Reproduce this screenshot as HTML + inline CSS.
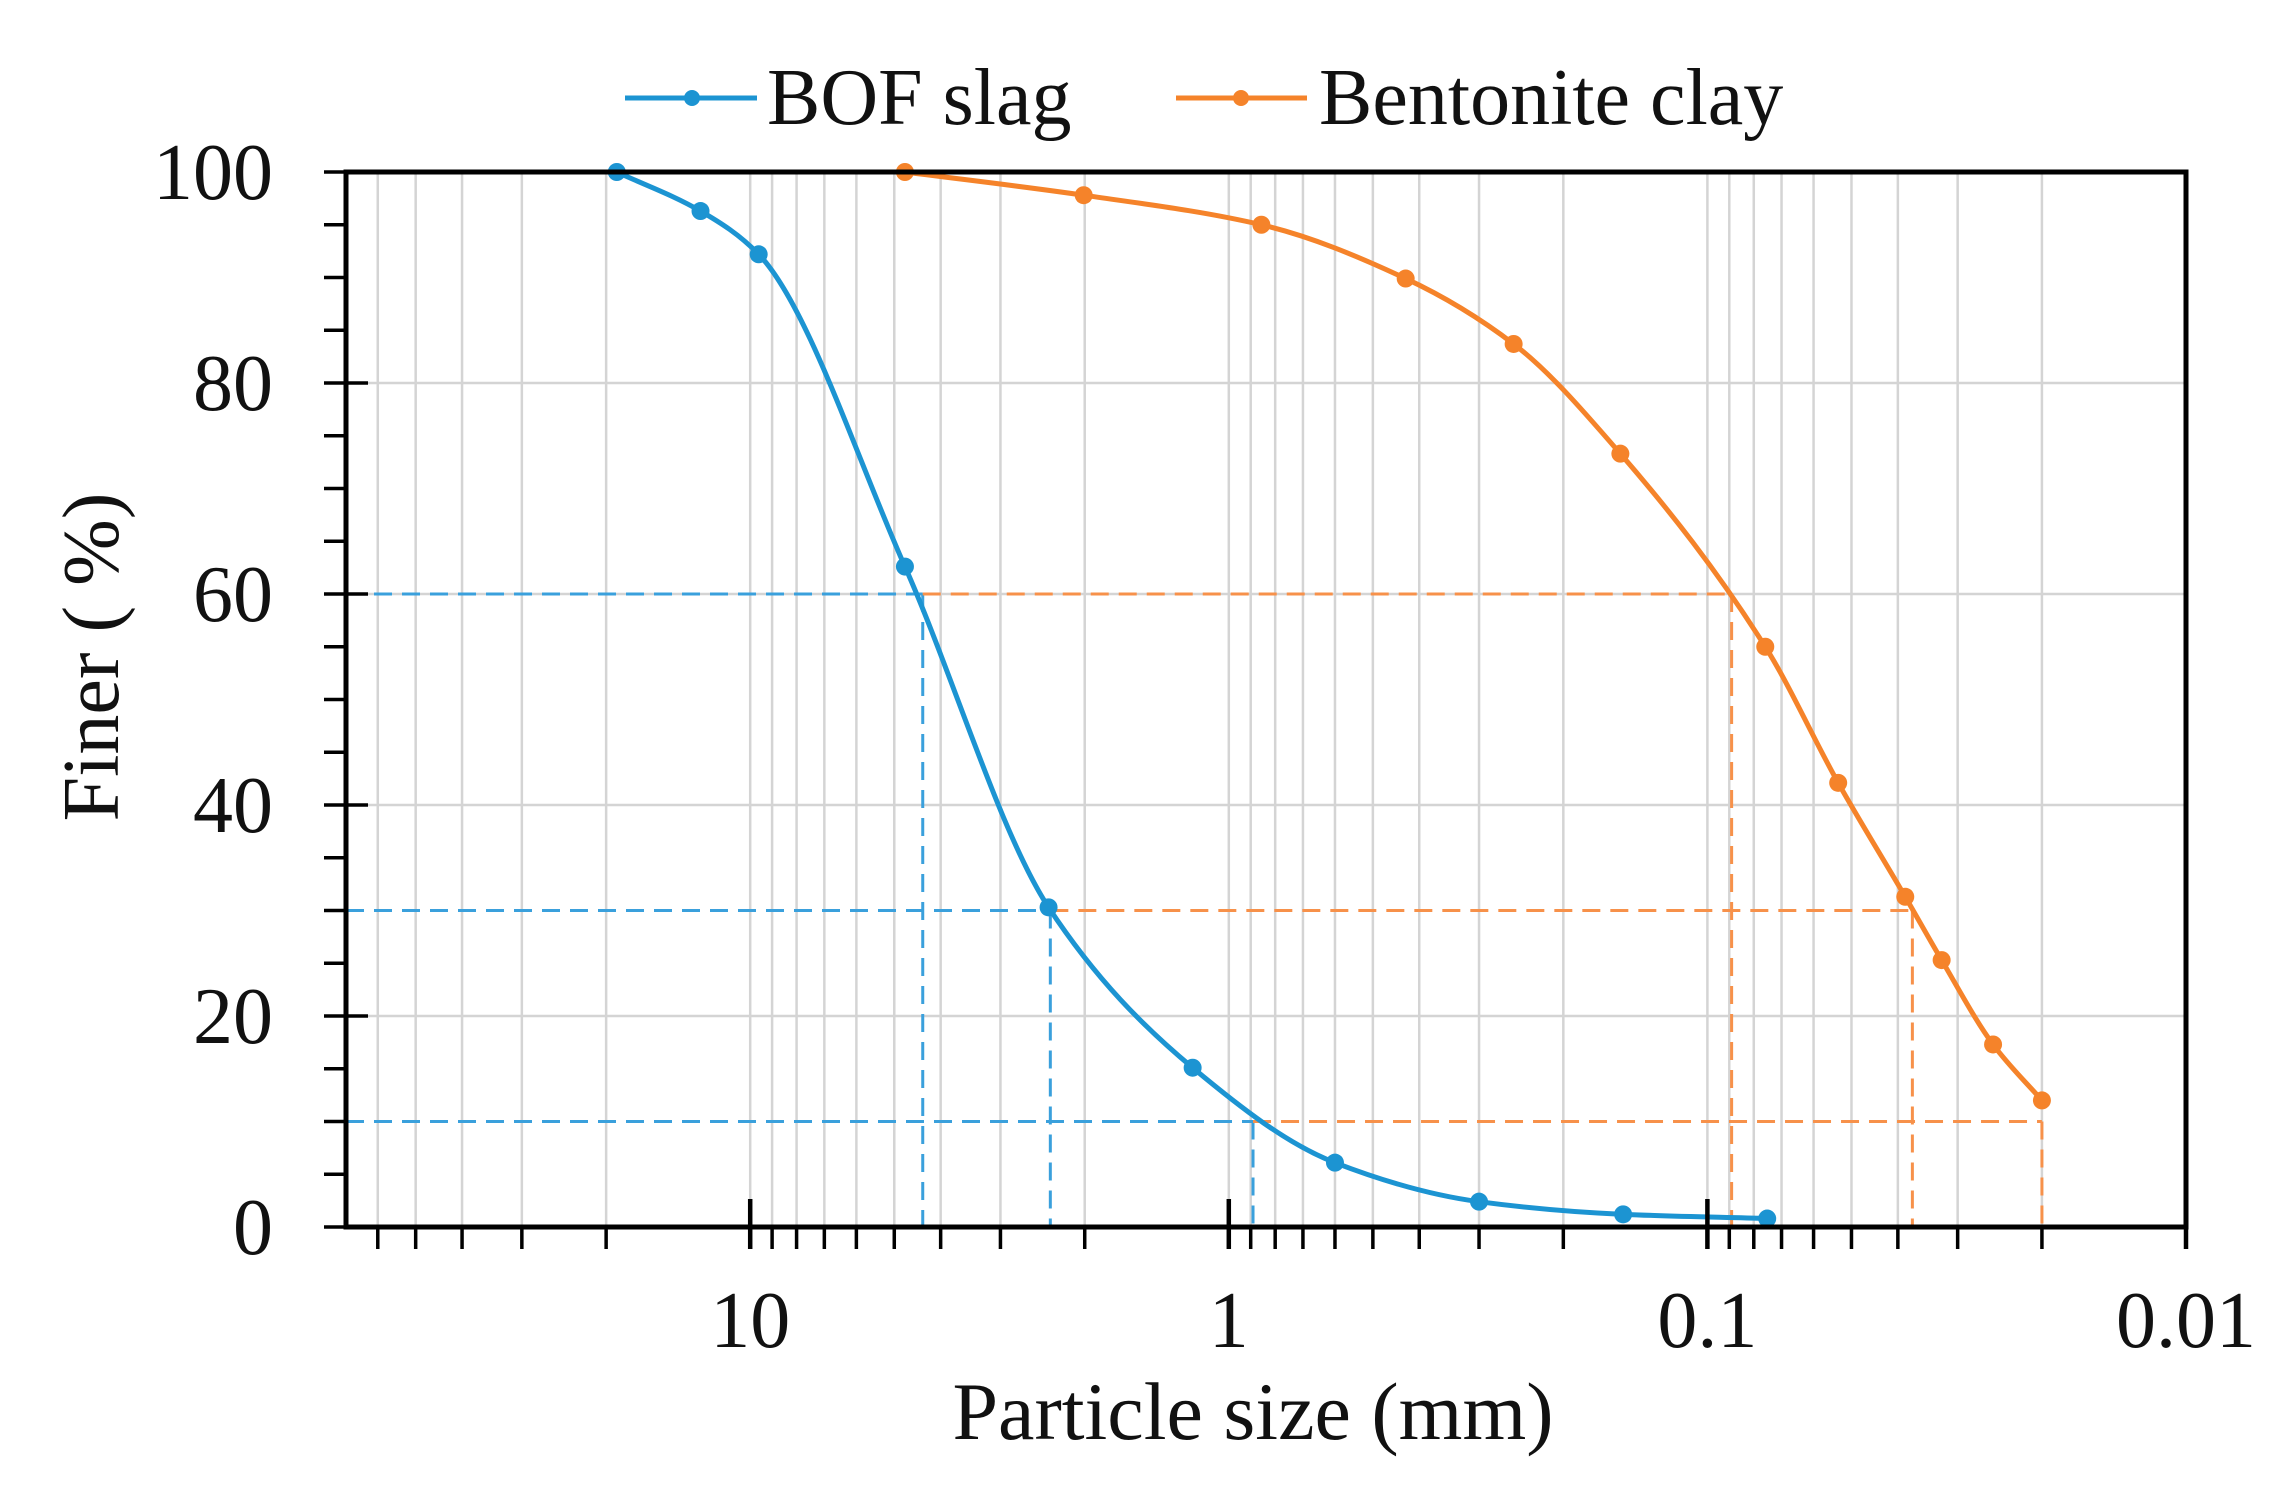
<!DOCTYPE html>
<html><head><meta charset="utf-8">
<style>
html,body{margin:0;padding:0;background:#fff;}
svg{display:block;font-family:"Liberation Serif","Times New Roman",serif;}
</style></head>
<body>
<svg id="chart" width="2290" height="1493" viewBox="0 0 2290 1493" xmlns="http://www.w3.org/2000/svg">
<g id="grid"></g>
<g id="refs"></g>
<g id="series"></g>
<g id="axes"></g>
<g id="legend">
  <line x1="625" y1="98" x2="757" y2="98" stroke="#1c94d2" stroke-width="5"/>
  <circle cx="692" cy="98" r="8" fill="#1c94d2"/>
  <text x="767" y="124" font-size="80" fill="#111">BOF slag</text>
  <line x1="1176" y1="98" x2="1307" y2="98" stroke="#f5832a" stroke-width="5"/>
  <circle cx="1241" cy="98" r="8" fill="#f5832a"/>
  <text x="1319" y="124" font-size="80" fill="#111">Bentonite clay</text>
</g>
<text x="1253" y="1439" font-size="82" text-anchor="middle" fill="#111">Particle size (mm)</text>
<text x="0" y="0" font-size="80" text-anchor="middle" fill="#111" transform="translate(118,657) rotate(-90)">Finer ( %)</text>
</svg>
<script>
const bofSize = [19, 12.7, 9.6, 4.75, 2.38, 1.19, 0.60, 0.30, 0.15, 0.075];
const bofFiner = [100, 96.3, 92.2, 62.6, 30.3, 15.1, 6.1, 2.4, 1.2, 0.8];
const clySize = [4.75, 2.01, 0.855, 0.427, 0.254, 0.152, 0.0757, 0.0533, 0.0386, 0.0324, 0.0253, 0.020];
const clyFiner = [100, 97.8, 95.0, 89.9, 83.7, 73.3, 55.0, 42.1, 31.3, 25.3, 17.3, 12.0];
const bofD = [4.36, 2.36, 0.89];
const clyD = [0.089, 0.0373, 0.020];
const dLevels = [60, 30, 10];
const yTicks = [0, 20, 40, 60, 80, 100];
const xTickLabels = ["10", "1", "0.1", "0.01"];
const xTickValues = [10, 1, 0.1, 0.01];

const L=346,R=2186,T=172,B=1227,DEC=478.6;
const NS="http://www.w3.org/2000/svg";
function sx(v){return R-(Math.log10(v)+2)*DEC;}
function sy(v){return B-(v/100)*(B-T);}
function mk(tag,attrs,parent){const e=document.createElementNS(NS,tag);for(const k in attrs)e.setAttribute(k,attrs[k]);parent.appendChild(e);return e;}
const grid=document.getElementById('grid'),axes=document.getElementById('axes'),refs=document.getElementById('refs'),series=document.getElementById('series');

const xmax=Math.pow(10,(R-L)/DEC-2);
for(let e=-2;e<=2;e++){for(let m=1;m<=9;m++){const v=m*Math.pow(10,e);if(v>xmax+1e-9||v<0.01-1e-12)continue;const x=sx(v);
 if(x>L+1&&x<R-1){const g=mk('line',{x1:x,y1:T,x2:x,y2:B,stroke:'#d4d4d4','stroke-width':2.5},grid);}
 const t=mk('line',{x1:x,y1:m===1?B-28:B,x2:x,y2:B+22,stroke:'#000','stroke-width':m===1?4.5:3.5},axes);
 }}
yTicks.forEach(v=>{if(v>0&&v<100){const g=mk('line',{x1:L,y1:sy(v),x2:R,y2:sy(v),stroke:'#d4d4d4','stroke-width':2.5},grid);}});
for(let v=0;v<=100;v+=5){const major=v%20===0;const t=mk('line',{x1:L-22,y1:sy(v),x2:major?L+22:L,y2:sy(v),stroke:'#000','stroke-width':3.5},axes);
 }
yTicks.forEach(v=>{const t=mk('text',{x:273,y:sy(v)+27,'font-size':80,'text-anchor':'end',fill:'#111'},axes);t.textContent=v;
 });
xTickValues.forEach((v,i)=>{const t=mk('text',{x:sx(v),y:1347,'font-size':80,'text-anchor':'middle',fill:'#111'},axes);t.textContent=xTickLabels[i];
 });
const fr=mk('rect',{x:L,y:T,width:R-L,height:B-T,fill:'none',stroke:'#000','stroke-width':5},axes);


dLevels.forEach((lv,i)=>{const y=sy(lv),xb=sx(bofD[i]),xc=sx(clyD[i]);
 const a=mk('path',{d:`M${L},${y}H${xb}M${xb},${y}V${B}`,stroke:'#3aa0dc','stroke-width':3,fill:'none','stroke-dasharray':'18 10'},refs);
 
 const b=mk('path',{d:`M${xb},${y}H${xc}M${xc},${y}V${B}`,stroke:'#f7914a','stroke-width':3,fill:'none','stroke-dasharray':'18 10'},refs);
 });

// monotone cubic (Fritsch-Carlson) in screen space, x increasing
function smooth(pts){const n=pts.length,dx=[],m=[],t=new Array(n);
 for(let i=0;i<n-1;i++){dx[i]=pts[i+1][0]-pts[i][0];m[i]=(pts[i+1][1]-pts[i][1])/dx[i];}
 t[0]=m[0];t[n-1]=m[n-2];
 for(let i=1;i<n-1;i++){t[i]=(m[i-1]*m[i]<=0)?0:(dx[i-1]+dx[i])*3/((2*dx[i]+dx[i-1])/m[i-1]+(dx[i]+2*dx[i-1])/m[i]);}
 let d=`M${pts[0][0]},${pts[0][1]}`;
 for(let i=0;i<n-1;i++){const h=dx[i]/3;d+=`C${pts[i][0]+h},${pts[i][1]+t[i]*h} ${pts[i+1][0]-h},${pts[i+1][1]-t[i+1]*h} ${pts[i+1][0]},${pts[i+1][1]}`;}
 return d;}
function drawSeries(xs,ys,color,name){const pts=xs.map((v,i)=>[sx(v),sy(ys[i])]);
 const p=mk('path',{d:smooth(pts),stroke:color,'stroke-width':5,fill:'none'},series);
 
 pts.forEach(q=>{const c=mk('circle',{cx:q[0],cy:q[1],r:9,fill:color},series);
  });}
drawSeries(bofSize,bofFiner,'#1c94d2','bof-slag');
drawSeries(clySize,clyFiner,'#f5832a','bentonite-clay');
</script>
</body></html>
